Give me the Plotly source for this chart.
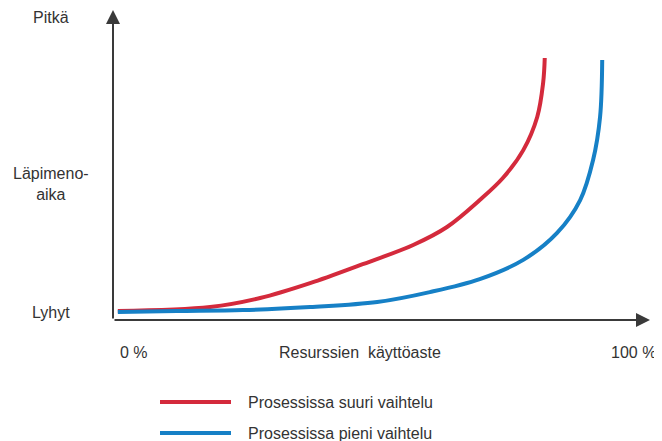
import plotly.graph_objects as go

# Resource utilisation (%) and lead time (relative units, 0 = short, 100 = long)
red_x = [0.9, 18.1, 27.4, 36.7, 46.0, 55.9, 62.2, 68.3, 72.6, 76.4, 79.0, 80.1, 80.4]
red_y = [2.9, 4.2, 7.1, 11.9, 17.7, 24.2, 30.0, 38.7, 45.8, 54.8, 65.5, 76.5, 84.5]
blue_x = [0.9, 11.9, 24.2, 36.7, 49.2, 59.0, 68.3, 76.4, 82.7, 87.0, 89.4, 90.7, 91.1]
blue_y = [2.6, 2.9, 3.2, 4.2, 5.8, 9.0, 13.2, 19.4, 28.1, 38.7, 51.6, 65.5, 83.9]

series_names = ["Prosessissa suuri vaihtelu", "Prosessissa pieni vaihtelu"]
series_colors = ["#d42a3c", "#1680c6"]

y_labels = ["Pitkä", "Läpimeno-<br>aika", "Lyhyt"]
x_labels = ["0 %", "Resurssien  käyttöaste", "100 %"]

W, H = 662, 441
OFF = 8  # page body margin
L, T = 113 - OFF, 10 - OFF
pw, ph = 537, 310
R = W - L - pw
B = H - T - ph

def px(x):
    return (x - OFF - L) / pw

def py(y):
    return (T + ph - (y - OFF)) / ph

fig = go.Figure()
fig.add_trace(go.Scatter(x=red_x, y=red_y, mode="lines", name=series_names[0],
                         line=dict(color=series_colors[0], width=4, shape="spline", smoothing=1.0)))
fig.add_trace(go.Scatter(x=blue_x, y=blue_y, mode="lines", name=series_names[1],
                         line=dict(color=series_colors[1], width=4, shape="spline", smoothing=1.0)))

font = dict(family="Liberation Sans, Arial, sans-serif", size=16, color="#333333")
ann = []
# axis arrows
ann.append(dict(x=100, y=0, ax=0, ay=0, xref="x", yref="y", axref="x", ayref="y",
                showarrow=True, arrowhead=2, arrowsize=1.4, arrowwidth=2,
                arrowcolor="#3a3a3a", text=""))
ann.append(dict(x=0, y=100, ax=0, ay=0, xref="x", yref="y", axref="x", ayref="y",
                showarrow=True, arrowhead=2, arrowsize=1.4, arrowwidth=2,
                arrowcolor="#3a3a3a", text=""))
# y labels
for txt, ypix in zip(y_labels, [18, 184, 312]):
    ann.append(dict(x=px(51), y=py(ypix), xref="paper", yref="paper", text=txt,
                    showarrow=False, xanchor="center", yanchor="middle", font=font))
# x labels
for txt, xpix, anc in zip(x_labels, [118, 360, 658], ["left", "center", "right"]):
    ann.append(dict(x=px(xpix), y=py(352), xref="paper", yref="paper", text=txt,
                    showarrow=False, xanchor=anc, yanchor="middle", font=font))

shapes = []
for name, col, ypix in zip(series_names, series_colors, [402, 433]):
    shapes.append(dict(type="line", xref="paper", yref="paper",
                       x0=px(160), x1=px(231), y0=py(ypix), y1=py(ypix),
                       line=dict(color=col, width=4)))
    ann.append(dict(x=px(246), y=py(ypix), xref="paper", yref="paper", text=name,
                    showarrow=False, xanchor="left", yanchor="middle", font=font))

fig.update_layout(
    width=W, height=H,
    margin=dict(l=L, r=R, t=T, b=B),
    paper_bgcolor="white", plot_bgcolor="white",
    showlegend=False,
    xaxis=dict(range=[0, 100], visible=False, fixedrange=True),
    yaxis=dict(range=[0, 100], visible=False, fixedrange=True),
    annotations=ann, shapes=shapes,
)

fig.write_html("out.html")
